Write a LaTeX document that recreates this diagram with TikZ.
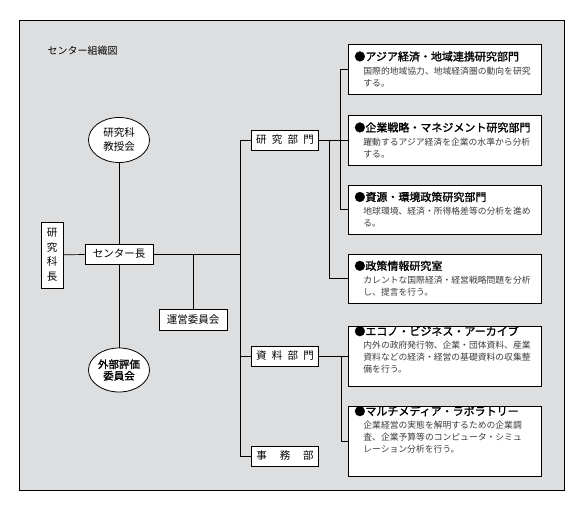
\documentclass[tikz,border=0pt]{standalone}
\usepackage{fontspec}
\setmainfont[AutoFakeBold=1.5]{Noto Sans CJK JP}
\usetikzlibrary{shapes.geometric}

\definecolor{panel}{RGB}{221,222,224}
\definecolor{desc}{RGB}{60,60,60}

\newcommand{\labtext}[4]{%
  \parbox[c][#1][#2]{181pt}{%
    \ifx t#2\vspace{5pt}\fi
    {\fontsize{11}{13}\selectfont\bfseries ●#3\par}
    \vspace{1.5pt}
    {\fontsize{8.8}{12}\selectfont\color{desc}\leftskip=9pt #4\par}}}

\tikzset{%
  every unit/.style={
    draw,
    fill=white,
    line width=0.8pt,
    inner sep=0pt,
    font=\fontsize{10.5}{12}\selectfont
  },
  unit council/.style={
    ellipse,
    minimum width=61pt,
    minimum height=45pt,
    align=center,
    font=\fontsize{10.5}{14}\selectfont
  },
  unit section/.style={
    minimum width=67pt,
    minimum height=20pt
  },
  unit lab/.style={
    inner xsep=6pt
  },
  link/.style={
    line width=0.7pt
  },
}

\begin{document}
\begin{tikzpicture}[x=1pt, y=-1pt]

\useasboundingbox (0,0) rectangle (587,510);
\draw [line width=0.8pt, fill=panel] (19,20) rectangle (564,490);

\node [anchor=west, font=\fontsize{10}{12}\selectfont] (title) at (44,51) {センター組織図};

% left side
\node [every unit/.try, minimum width=68pt, minimum height=20pt] (chief) at (119,254) {センター長};
\node [every unit/.try, minimum width=22pt, minimum height=66pt, align=center,
  font=\fontsize{10.5}{14.5}\selectfont] (dean) at (52,255) {研\\究\\科\\長};
\node [every unit/.try, unit council/.try] (faculty) at (119,140) {研究科\\教授会};
\node [every unit/.try, unit council/.try, minimum height=44pt,
  font=\fontsize{10.5}{11.5}\selectfont\bfseries] (review) at (119,370) {外部評価\\委員会};
\node [every unit/.try, minimum width=68pt, minimum height=21pt] (steering) at (193,320) {運営委員会};

% sections
\foreach \m/\l/\y in {research/研\enspace 究\enspace 部\enspace 門/140,
                      archive/資\enspace 料\enspace 部\enspace 門/356,
                      office/事\hspace{13pt}務\hspace{13pt}部/456}
  \node [every unit/.try, unit section/.try] (\m) at (285,\y) {\l};

% labs
\foreach \i/\y/\h/\p/\t/\d in {
    1/69/50/c/{アジア経済・地域連携研究部門}/{国際的地域協力、地域経済圏の動向を研究\\する。},
    2/140/50/c/{企業戦略・マネジメント研究部門}/{躍動するアジア経済を企業の水準から分析\\する。},
    3/209.5/49/c/{資源・環境政策研究部門}/{地球環境、経済・所得格差等の分析を進め\\る。},
    4/278.5/49/c/{政策情報研究室}/{カレントな国際経済・経営戦略問題を分析\\し、提言を行う。},
    5/356/60/t/{エコノ・ビジネス・アーカイブ}/{内外の政府発行物、企業・団体資料、産業\\資料などの経済・経営の基礎資料の収集整\\備を行う。},
    6/441/70/t/{マルチメディア・ラボラトリー}/{企業経営の実態を解明するための企業調\\査、企業予算等のコンピュータ・シミュ\\レーション分析を行う。}}
  \node [every unit/.try, unit lab/.try, anchor=west] (lab-\i) at (348,\y) {\labtext{\h pt}{\p}{\t}{\d}};

\coordinate (trunk) at (240,0);
\coordinate (spine-l) at (329,0);
\coordinate (spine-r) at (340,0);
\coordinate (spine-a) at (341,0);

\draw [link] (faculty) -- (chief);
\draw [link] (chief) -- (review);
\draw [link] (dean) -- (chief);
\draw [link] (chief.east) -- (trunk |- chief.east);
\draw [link] (steering.north) -- (steering.north |- chief.east);

\draw [link] (research.west) -- (trunk |- research.west) |- (office.west);
\draw [link] (archive.west) -- (trunk |- archive.west);

\draw [link] (research.east) -- (lab-2.west);
\draw [link] (lab-1.west) -| (spine-r |- lab-3.west) -- (lab-3.west);
\draw [link] (spine-l |- research.east) |- (lab-4.west);

\draw [link] (archive.east) -- (lab-5.west);
\draw [link] (spine-a |- lab-5.west) |- (lab-6.west);

\end{tikzpicture}
\end{document}
